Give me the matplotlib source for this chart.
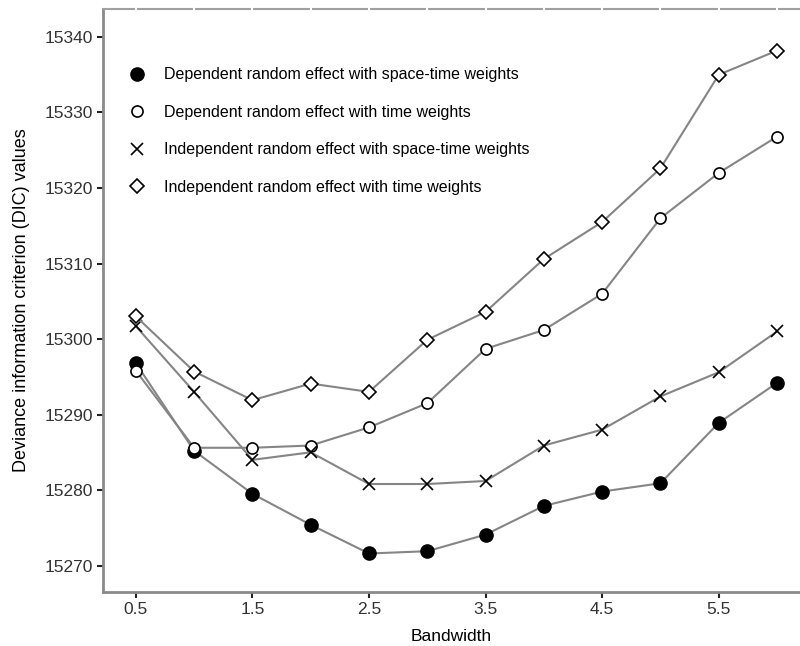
import numpy as np
import matplotlib
matplotlib.use("Agg")
import matplotlib.pyplot as plt
from matplotlib.lines import Line2D

matplotlib.rcParams['font.family'] = ["Liberation Sans", "DejaVu Sans"]

# data
bandwidth = [0.5, 1.0, 1.5, 2.0, 2.5, 3.0, 3.5, 4.0, 4.5, 5.0, 5.5, 6.0]
dep_spacetime = [15296.8, 15285.2, 15279.5, 15275.4, 15271.6, 15271.9,
                 15274.1, 15277.9, 15279.8, 15280.9, 15288.9, 15294.2]
dep_time = [15295.8, 15285.6, 15285.6, 15285.9, 15288.3, 15291.5,
            15298.7, 15301.2, 15306.0, 15316.0, 15322.0, 15326.8]
indep_spacetime = [15301.7, 15293.0, 15284.0, 15285.0, 15280.8, 15280.8,
                   15281.2, 15285.9, 15288.0, 15292.4, 15295.6, 15301.0]
indep_time = [15303.0, 15295.7, 15291.9, 15294.1, 15293.0, 15299.9,
              15303.6, 15310.6, 15315.5, 15322.6, 15335.0, 15338.2]
labels = ["Dependent random effect with space-time weights",
          "Dependent random effect with time weights",
          "Independent random effect with space-time weights",
          "Independent random effect with time weights"]
xticks = [0.5, 1.5, 2.5, 3.5, 4.5, 5.5]
yticks = [15270, 15280, 15290, 15300, 15310, 15320, 15330, 15340]

fig = plt.figure(figsize=(8, 6.46), dpi=100)
ax = fig.add_axes([0.129, 0.0836, 0.871, 0.9024])

lc = "#858585"
styles = [dict(marker="o", ms=9.5, mfc="black", mec="black"),
          dict(marker="o", ms=8, mfc="white", mec="black", mew=1.2),
          dict(marker="x", ms=8, mec="black", mew=1.2),
          dict(marker="D", ms=7.5, mfc="white", mec="black", mew=1.2)]
series = [dep_spacetime, dep_time, indep_spacetime, indep_time]

handles = []
for ys, st, lab in zip(series, styles, labels):
    ax.plot(bandwidth, ys, color=lc, lw=1.5, **st)
    handles.append(Line2D([], [], linestyle="none", **st, label=lab))

ax.set_xlim(0.22, 6.197)
ax.set_ylim(15266.5, 15343.7)
ax.set_xticks(xticks)
ax.set_xticklabels([str(t) for t in xticks])
ax.set_yticks(yticks)

for s in ["left", "bottom"]:
    ax.spines[s].set_color("#8a8a8a")
    ax.spines[s].set_linewidth(2)
ax.spines["top"].set_color("#a0a0a0")
ax.spines["top"].set_linewidth(1.5)
ax.spines["right"].set_visible(False)
# white gaps in the top border
ax.vlines(bandwidth, 0.99, 1.01, transform=ax.get_xaxis_transform(),
          colors="white", lw=1.5, zorder=5, clip_on=False)

ax.tick_params(axis="both", direction="out", length=4, width=1.5,
               color="#222222", labelsize=12.5, labelcolor="#333333", pad=3)

ax.set_xlabel("Bandwidth", fontsize=12.5, labelpad=9)
ax.set_ylabel("Deviance information criterion (DIC) values", fontsize=13,
              labelpad=11)

ax.legend(handles=handles, loc="upper left", bbox_to_anchor=(0.01, 0.9245),
          frameon=False, fontsize=11.5, handlelength=1.6, handletextpad=0.9,
          labelspacing=1.41)

fig.savefig("out.png", dpi=100)
